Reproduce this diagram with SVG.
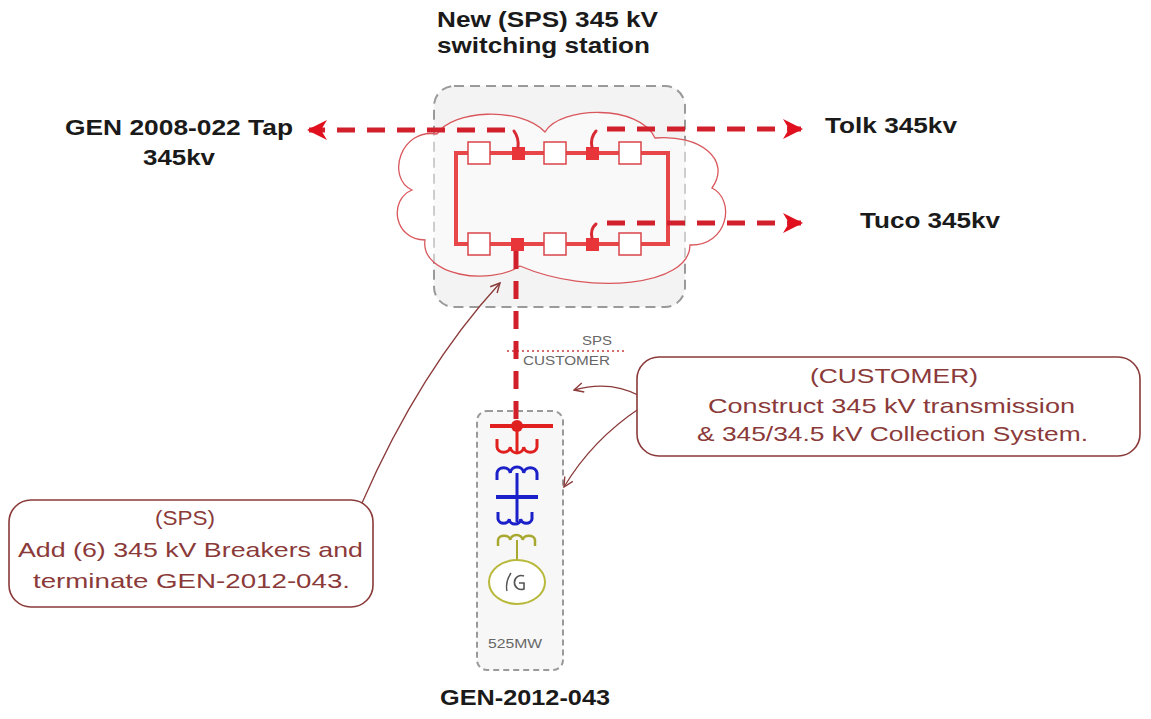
<svg xmlns="http://www.w3.org/2000/svg" width="1151" height="719" viewBox="0 0 1151 719">
<style>
.lbl{font-family:"Liberation Sans",Arial,sans-serif;font-weight:bold;font-size:22px;fill:#1a1a1a}
.note{font-family:"Liberation Sans",Arial,sans-serif;font-size:21px;fill:#8b3a3a}
.small{font-family:"Liberation Sans",Arial,sans-serif;font-size:12px;fill:#666}
.feed{fill:none;stroke:#d11f2c;stroke-width:5;stroke-dasharray:18 12}
.ring{fill:none;stroke:#e8474a;stroke-width:4}
.sw{fill:#fff;stroke:#d9444a;stroke-width:1.5}
.brk{fill:#e8353a}
.hook{fill:none;stroke:#d82a33;stroke-width:3;stroke-linecap:round}
.callout{fill:#fff;stroke:#8b3a3a;stroke-width:1.6}
.lead{fill:none;stroke:#8b3a3a;stroke-width:1.3}
</style>
<defs>
<marker id="af" viewBox="0 0 10 10" refX="9" refY="5" markerWidth="4" markerHeight="4" orient="auto-start-reverse" markerUnits="strokeWidth">
<path d="M0,0 L10,5 L0,10 L3,5 Z" fill="#e0101e"/>
</marker>
<marker id="ao" viewBox="0 0 10 10" refX="9" refY="5" markerWidth="9" markerHeight="9" orient="auto" markerUnits="strokeWidth">
<path d="M1,1 L9,5 L1,9" fill="none" stroke="#8b3a3a" stroke-width="1.2"/>
</marker>
</defs>
<rect width="1151" height="719" fill="#fff"/>

<g id="station">
<rect x="434" y="86" width="251" height="221" rx="20" fill="#f3f3f3" stroke="#9a9a9a" stroke-width="2" stroke-dasharray="10 6"/>
<path d="M437,134 C452,110 520,106 545,132 C560,106 640,104 655,138 C700,134 732,160 712,188 C736,200 728,246 690,245 C690,286 590,296 520,266 C490,286 420,276 425,240 C394,240 388,200 412,190 C386,178 400,128 437,134 Z" fill="#fff" fill-opacity="0.5" stroke="#d9575c" stroke-width="1.3"/>
<rect x="456" y="153" width="212" height="91" class="ring"/>
<rect x="468" y="142" width="22" height="22" class="sw"/>
<rect x="544" y="142" width="22" height="22" class="sw"/>
<rect x="619" y="142" width="22" height="22" class="sw"/>
<rect x="468" y="233" width="22" height="22" class="sw"/>
<rect x="544" y="233" width="22" height="22" class="sw"/>
<rect x="619" y="233" width="22" height="22" class="sw"/>
<rect x="512" y="147" width="13" height="13" class="brk"/>
<rect x="586" y="147" width="13" height="13" class="brk"/>
<rect x="511" y="238" width="13" height="13" class="brk"/>
<rect x="586" y="238" width="13" height="13" class="brk"/>
<path class="hook" d="M518,147 Q519,138 514,131"/>
<path class="hook" d="M592,147 Q590,138 596,131"/>
<path class="hook" d="M592,238 Q590,229 596,224"/>
</g>

<g id="gen-box">
<rect x="477" y="411" width="86" height="259" rx="10" fill="#f7f7f7" stroke="#9a9a9a" stroke-width="2" stroke-dasharray="6 4"/>
<line x1="490" y1="426" x2="553" y2="426" stroke="#e0201f" stroke-width="4"/>
<circle cx="517" cy="426" r="6" fill="#e0201f"/>
<line x1="517" y1="426" x2="517" y2="452" stroke="#e0201f" stroke-width="3"/>
<path d="M497,439 L497,447 A6.7,6 0 0 0 510.3,447 A6.7,6 0 0 0 523.7,447 A6.7,6 0 0 0 537,447 L537,439" fill="none" stroke="#e0201f" stroke-width="3"/>
<path d="M497,480 L497,473 A6.7,6 0 0 1 510.3,473 A6.7,6 0 0 1 523.7,473 A6.7,6 0 0 1 537,473 L537,480" fill="none" stroke="#1b20c8" stroke-width="3"/>
<line x1="517" y1="473" x2="517" y2="522" stroke="#1b20c8" stroke-width="3"/>
<line x1="496" y1="497" x2="538" y2="497" stroke="#1b20c8" stroke-width="4"/>
<path d="M498,512 L498,519 A5.7,5 0 0 0 509.3,519 A5.7,5 0 0 0 520.7,519 A5.7,5 0 0 0 532,519 L532,512" fill="none" stroke="#1b20c8" stroke-width="3"/>
<path d="M498,546 L498,540 A6.2,5 0 0 1 510.3,540 A6.2,5 0 0 1 522.7,540 A6.2,5 0 0 1 535,540 L535,546" fill="none" stroke="#a8a830" stroke-width="2.5"/>
<line x1="517" y1="540" x2="517" y2="560" stroke="#a8a830" stroke-width="2"/>
<ellipse cx="517" cy="582" rx="28" ry="22" fill="#fff" stroke="#b8b83a" stroke-width="2"/>
<path d="M524,576 A7,7 0 1 0 524,589 L524,583 L519,583" fill="none" stroke="#555" stroke-width="1.6"/>
<path d="M507,591 Q505,582 511,573" fill="none" stroke="#555" stroke-width="1.4"/>
<text x="515" y="648" text-anchor="middle" class="small" textLength="54" lengthAdjust="spacingAndGlyphs">525MW</text>
</g>

<g id="boundary">
<line x1="507" y1="351" x2="627" y2="351" stroke="#d66a6a" stroke-width="2" stroke-dasharray="2 3"/>
<text x="582" y="345" class="small" textLength="30" lengthAdjust="spacingAndGlyphs">SPS</text>
<text x="523" y="365" class="small" textLength="87" lengthAdjust="spacingAndGlyphs">CUSTOMER</text>
</g>

<g id="connectors">
<line class="feed" x1="505" y1="130" x2="309" y2="130" marker-end="url(#af)"/>
<line class="feed" x1="607" y1="129" x2="801" y2="129" marker-end="url(#af)"/>
<line class="feed" x1="607" y1="223" x2="801" y2="223" marker-end="url(#af)"/>
<line class="feed" x1="516" y1="251" x2="516" y2="420"/>
<path class="lead" d="M640,396 Q610,380 574,390" marker-end="url(#ao)"/>
<path class="lead" d="M640,408 Q592,440 564,487" marker-end="url(#ao)"/>
<path class="lead" d="M362,503 Q420,370 500,283" marker-end="url(#ao)"/>
</g>

<g id="labels">
<text x="437" y="27" class="lbl" textLength="221" lengthAdjust="spacingAndGlyphs">New (SPS) 345 kV</text>
<text x="437" y="53" class="lbl" textLength="213" lengthAdjust="spacingAndGlyphs">switching station</text>
<text x="65" y="135" class="lbl" textLength="228" lengthAdjust="spacingAndGlyphs">GEN 2008-022 Tap</text>
<text x="143" y="165" class="lbl" textLength="72" lengthAdjust="spacingAndGlyphs">345kv</text>
<text x="825" y="133" class="lbl" textLength="132" lengthAdjust="spacingAndGlyphs">Tolk 345kv</text>
<text x="860" y="228" class="lbl" textLength="140" lengthAdjust="spacingAndGlyphs">Tuco 345kv</text>
<text x="440" y="705" class="lbl" textLength="170" lengthAdjust="spacingAndGlyphs">GEN-2012-043</text>
</g>

<g id="customer-note">
<rect x="637" y="357" width="503" height="99" rx="22" class="callout"/>
<text x="810" y="383" class="note" textLength="168" lengthAdjust="spacingAndGlyphs">(CUSTOMER)</text>
<text x="708" y="413" class="note" textLength="367" lengthAdjust="spacingAndGlyphs">Construct 345 kV transmission</text>
<text x="697" y="441" class="note" textLength="391" lengthAdjust="spacingAndGlyphs">&amp; 345/34.5 kV Collection System.</text>
</g>

<g id="sps-note">
<rect x="9" y="500" width="364" height="107" rx="22" class="callout"/>
<text x="155" y="525" class="note" textLength="60" lengthAdjust="spacingAndGlyphs">(SPS)</text>
<text x="18" y="557" class="note" textLength="345" lengthAdjust="spacingAndGlyphs">Add (6) 345 kV Breakers and</text>
<text x="33" y="588" class="note" textLength="317" lengthAdjust="spacingAndGlyphs">terminate GEN-2012-043.</text>
</g>
</svg>
